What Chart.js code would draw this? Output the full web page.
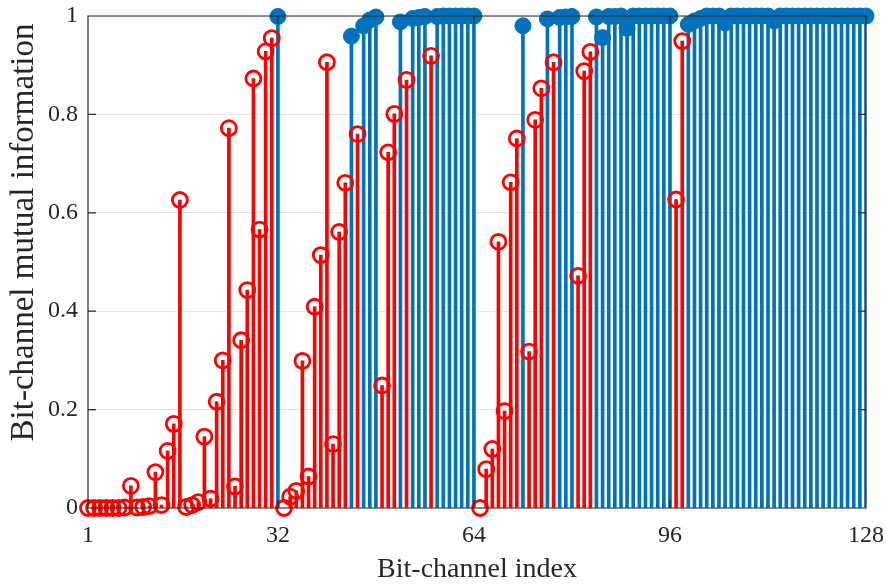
<!DOCTYPE html>
<html>
<head>
<meta charset="utf-8">
<script src="https://cdn.jsdelivr.net/npm/chart.js@4.4.1/dist/chart.umd.min.js"></script>
<style>
  html, body { margin: 0; padding: 0; background: #fff; }
</style>
</head>
<body>
<canvas id="chart" width="886" height="586"></canvas>
<script>
// bit-channel index 1..128 (categories)
var channelIndex = Array.from({ length: 128 }, function (_, i) { return i + 1; });

// mutual information of each bit-channel
var mutualInfo = [
  0, 0, 0, 0, 0, 0, 0.001, 0.045,
  0.001, 0.002, 0.004, 0.073, 0.006, 0.116, 0.171, 0.626,
  0.002, 0.006, 0.012, 0.145, 0.019, 0.216, 0.300, 0.772,
  0.044, 0.341, 0.443, 0.873, 0.566, 0.928, 0.955, 0.999,
  0.000, 0.023, 0.035, 0.299, 0.064, 0.409, 0.514, 0.906,
  0.130, 0.561, 0.661, 0.959, 0.760, 0.980, 0.992, 0.998,
  0.249, 0.723, 0.801, 0.988, 0.870, 0.995, 0.997, 0.999,
  0.919, 0.999, 1, 1, 1, 1, 1, 1,
  0.000, 0.079, 0.120, 0.541, 0.197, 0.662, 0.751, 0.980,
  0.318, 0.789, 0.853, 0.994, 0.906, 0.997, 0.998, 0.999,
  0.472, 0.888, 0.927, 0.998, 0.956, 0.999, 0.999, 1,
  0.975, 1, 1, 1, 1, 1, 1, 1,
  0.627, 0.949, 0.983, 0.990, 0.995, 1, 1, 1,
  0.986, 1, 1, 1, 1, 1, 1, 1,
  0.990, 1, 1, 1, 1, 1, 1, 1,
  1, 1, 1, 1, 1, 1, 1, 1
];

// channels drawn in red (frozen); the rest are blue
var frozenChannels = [
  1, 2, 3, 4, 5, 6, 7, 8, 9, 10, 11, 12, 13, 14, 15, 16,
  17, 18, 19, 20, 21, 22, 23, 24, 25, 26, 27, 28, 29, 30, 31,
  33, 34, 35, 36, 37, 38, 39, 40, 41, 42, 43, 45, 49, 50, 51, 53, 57,
  65, 66, 67, 68, 69, 70, 71, 73, 74, 75, 77, 81, 82, 83, 97, 98
];

var xTickValues = [1, 32, 64, 96, 128];
var yTickValues = [0, 0.2, 0.4, 0.6, 0.8, 1];
var yTitle = 'Bit-channel mutual information';

var RED = '#ff0000';
var BLUE = '#0072bd';
var AXIS = '#262626';
var FONT = '"Liberation Serif", "Times New Roman", serif';

var stemPts = [], stemColors = [], frozenPts = [], infoPts = [];
channelIndex.forEach(function (ch, i) {
  var p = { x: ch, y: mutualInfo[i] };
  var frozen = frozenChannels.indexOf(ch) >= 0;
  stemPts.push(p);
  stemColors.push(frozen ? RED : BLUE);
  (frozen ? frozenPts : infoPts).push(p);
});

// box around the axes + inward tick marks (matlab style), drawn over the data
var boxTicks = {
  id: 'boxTicks',
  afterDatasetsDraw: function (chart) {
    var a = chart.chartArea, ctx = chart.ctx;
    var sx = chart.scales.x, sy = chart.scales.y, len = 8;
    ctx.save();
    ctx.strokeStyle = AXIS;
    ctx.lineWidth = 1.2;
    ctx.beginPath();
    ctx.rect(a.left, a.top, a.right - a.left, a.bottom - a.top);
    xTickValues.forEach(function (v) {
      var px = sx.getPixelForValue(v);
      ctx.moveTo(px, a.bottom); ctx.lineTo(px, a.bottom - len);
      ctx.moveTo(px, a.top); ctx.lineTo(px, a.top + len);
    });
    yTickValues.forEach(function (v) {
      var py = sy.getPixelForValue(v);
      ctx.moveTo(a.left, py); ctx.lineTo(a.left + len, py);
      ctx.moveTo(a.right, py); ctx.lineTo(a.right - len, py);
    });
    ctx.stroke();
    ctx.restore();
  },
  // y label sits a bit above the axis middle in the original, so place it by hand
  afterDraw: function (chart) {
    var ctx = chart.ctx, sy = chart.scales.y;
    ctx.save();
    ctx.translate(24, sy.getPixelForValue(0.56));
    ctx.rotate(-Math.PI / 2);
    ctx.font = '33px ' + FONT;
    ctx.fillStyle = AXIS;
    ctx.textAlign = 'center';
    ctx.textBaseline = 'middle';
    ctx.fillText(yTitle, 0, 0);
    ctx.restore();
  }
};

new Chart(document.getElementById('chart'), {
  type: 'scatter',
  data: {
    datasets: [
      {
        type: 'bar',
        data: stemPts,
        backgroundColor: stemColors,
        borderWidth: 0,
        barThickness: 3,
        grouped: false,
        order: 3
      },
      {
        data: infoPts,
        pointStyle: 'circle',
        pointRadius: 8,
        backgroundColor: BLUE,
        borderColor: BLUE,
        borderWidth: 1,
        clip: false,
        order: 2
      },
      {
        data: frozenPts,
        pointStyle: 'circle',
        pointRadius: 7.5,
        backgroundColor: 'rgba(0,0,0,0)',
        borderColor: RED,
        borderWidth: 2.8,
        clip: false,
        order: 1
      }
    ]
  },
  options: {
    responsive: false,
    animation: false,
    layout: { padding: { top: 16, right: 20, left: 0, bottom: 0 } },
    plugins: { legend: { display: false }, tooltip: { enabled: false } },
    scales: {
      x: {
        type: 'linear',
        min: 1,
        max: 128,
        offset: false,
        afterBuildTicks: function (s) { s.ticks = xTickValues.map(function (v) { return { value: v }; }); },
        afterFit: function (s) { s.height = 78; s.paddingLeft = 0; s.paddingRight = 0; },
        grid: { display: false, offset: false, drawTicks: false },
        border: { display: false },
        ticks: { color: AXIS, font: { family: FONT, size: 24 }, padding: 13, maxRotation: 0, autoSkip: false },
        title: { display: true, text: 'Bit-channel index', color: AXIS, font: { family: FONT, size: 28 }, padding: { top: 0, bottom: 0 } }
      },
      y: {
        min: 0,
        max: 1,
        afterBuildTicks: function (s) { s.ticks = yTickValues.map(function (v) { return { value: v }; }); },
        afterFit: function (s) { s.width = 88; s.paddingTop = 0; s.paddingBottom = 0; },
        grid: { color: 'rgba(0,0,0,0.1)', drawTicks: false },
        border: { display: false },
        ticks: { color: AXIS, font: { family: FONT, size: 24 }, padding: 10, callback: function (v) { return String(v); } },
        title: { display: false }
      }
    }
  },
  plugins: [boxTicks]
});
</script>
</body>
</html>
